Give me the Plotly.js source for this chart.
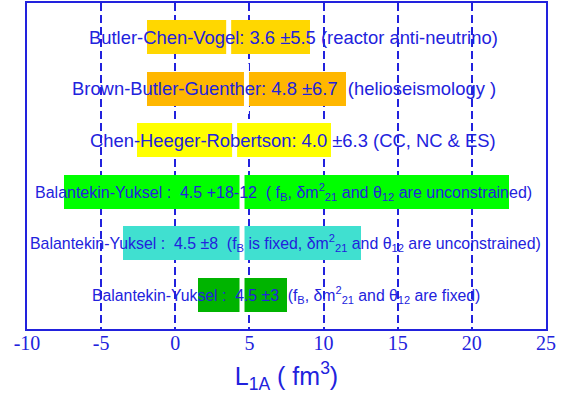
<!DOCTYPE html>
<html>
<head>
<meta charset="utf-8">
<script src="https://cdn.plot.ly/plotly-3.0.1.min.js"></script>
<style>html,body{margin:0;padding:0;background:#fff;}#chart{width:568px;height:401px;}</style>
</head>
<body>
<div id="chart"></div>
<script>
// ---- data ----
var rowLabels = [
  "Butler-Chen-Vogel: 3.6 \u00b15.5 (reactor anti-neutrino)",
  "Brown-Butler-Guenther: 4.8 \u00b16.7\u00a0\u00a0(helioseismology )",
  "Chen-Heeger-Robertson: 4.0 \u00b16.3 (CC, NC & ES)",
  "Balantekin-Yuksel :\u00a0\u00a04.5 +18-12\u00a0\u00a0( f<sub>B</sub>, \u03b4m<sup>2</sup><sub>21</sub> and \u03b8<sub>12</sub> are unconstrained)",
  "Balantekin-Yuksel :\u00a0\u00a04.5 \u00b18\u00a0\u00a0(f<sub>B</sub> is fixed, \u03b4m<sup>2</sup><sub>21</sub> and \u03b8<sub>12</sub> are unconstrained)",
  "Balantekin-Yuksel :\u00a0\u00a04.5 \u00b13\u00a0\u00a0(f<sub>B</sub>, \u03b4m<sup>2</sup><sub>21</sub> and \u03b8<sub>12</sub> are fixed)"
];
var rowPos = [5, 4, 3, 2, 1, 0];
var centers = [3.6, 4.8, 4.0, 4.5, 4.5, 4.5];
var lows    = [-1.9, -1.9, -2.6, -7.5, -3.5, 1.5];
var highs   = [9.1, 11.5, 10.5, 22.5, 12.5, 7.5];
var xTicks  = [-10, -5, 0, 5, 10, 15, 20, 25];

// ---- styles ----
var barColors = ["#ffd700", "#ffb700", "#ffff00", "#00ff00", "#40e0d0", "#00b400"];
var fontSizes = [18.4, 18.4, 18.4, 16, 15.9, 15.8];
var textCenters = [0.5135, 0.495, 0.5116, 0.495, 0.498, 0.499];
var blue = "#2222dd";
var sans = '"Liberation Sans", Arial, Helvetica, sans-serif';
var serif = '"Liberation Serif", "Times New Roman", Times, serif';

var spans = highs.map(function (h, i) { return h - lows[i]; });

var bars = {
  type: "bar", orientation: "h",
  y: rowPos, x: spans, base: lows,
  width: 0.66,
  marker: { color: barColors, line: { width: 0 } },
  hoverinfo: "skip", showlegend: false
};
var centerMarks = {
  type: "scatter", mode: "markers",
  x: centers, y: rowPos,
  marker: { symbol: "line-ns-open", size: 36, color: "#ffffff", line: { color: "#ffffff", width: 5 } },
  hoverinfo: "skip", showlegend: false
};

var annotations = rowLabels.map(function (t, i) {
  return {
    text: t, xref: "paper", yref: "y",
    x: textCenters[i], y: rowPos[i],
    xanchor: "center", yanchor: "middle",
    showarrow: false,
    font: { family: sans, size: fontSizes[i], color: blue }
  };
});

var layout = {
  width: 568, height: 401,
  margin: { l: 27, r: 22, t: 3, b: 72 },
  paper_bgcolor: "#ffffff", plot_bgcolor: "#ffffff",
  bargap: 0,
  xaxis: {
    range: [-10, 25], tickvals: xTicks, ticktext: xTicks.map(String),
    showgrid: true, gridcolor: blue, gridwidth: 2, griddash: "8px,4px",
    zeroline: false, showline: true, mirror: true, linecolor: blue, linewidth: 2,
    ticks: "", ticklabelstandoff: -5,
    tickfont: { family: serif, size: 20, color: blue },
    title: { text: "L<sub>1A</sub> ( fm<sup>3</sup>)", font: { family: sans, size: 25, color: blue }, standoff: 14 },
    fixedrange: true
  },
  yaxis: {
    range: [-0.665, 5.665], showticklabels: false, showgrid: false, zeroline: false,
    showline: true, mirror: true, linecolor: blue, linewidth: 2, ticks: "", fixedrange: true
  },
  annotations: annotations
};

Plotly.newPlot("chart", [bars, centerMarks], layout, { displayModeBar: false, staticPlot: true });
</script>
</body>
</html>
